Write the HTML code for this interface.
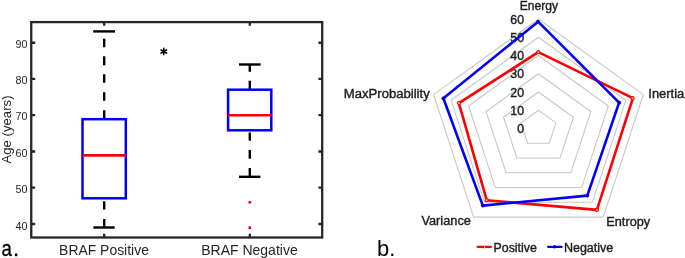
<!DOCTYPE html>
<html><head><meta charset="utf-8">
<style>
html,body{margin:0;padding:0;background:#fff;}
body{width:685px;height:258px;overflow:hidden;}
svg{display:block;will-change:transform;}
text{font-family:"Liberation Sans", sans-serif;}
</style></head>
<body>
<svg width="685" height="258" viewBox="0 0 685 258">
<!-- ===== Left: box plot ===== -->
<g stroke="#262626" stroke-width="2.3" fill="none">
  <rect x="31.25" y="22.1" width="290.95" height="215.4"/>
  <!-- y ticks left -->
  <path d="M31.4 42.75h3.8M31.4 78.9h3.8M31.4 115.1h3.8M31.4 151.5h3.8M31.4 187.7h3.8M31.4 224h3.8"/>
  <!-- y ticks right -->
  <path d="M322.2 42.75h-3.8M322.2 78.9h-3.8M322.2 115.1h-3.8M322.2 151.5h-3.8M322.2 187.7h-3.8M322.2 224h-3.8"/>
  <!-- x ticks -->
  <path d="M104.2 22v3.8M249.8 22v3.8M104.2 237.5v-3.8M249.8 237.5v-3.8"/>
</g>
<g fill="#262626" font-size="11.5" text-anchor="end">
  <text x="27.5" y="48.1" textLength="12" lengthAdjust="spacingAndGlyphs">90</text>
  <text x="27.5" y="84.4" textLength="12" lengthAdjust="spacingAndGlyphs">80</text>
  <text x="27.5" y="120.4" textLength="12" lengthAdjust="spacingAndGlyphs">70</text>
  <text x="27.5" y="156.9" textLength="12" lengthAdjust="spacingAndGlyphs">60</text>
  <text x="27.5" y="193.2" textLength="12" lengthAdjust="spacingAndGlyphs">50</text>
  <text x="27.5" y="229.6" textLength="12" lengthAdjust="spacingAndGlyphs">40</text>
</g>
<text transform="translate(10.6,129.5) rotate(-90)" text-anchor="middle" font-size="13.2" fill="#262626">Age (years)</text>
<g fill="#262626" font-size="14.1">
  <text x="59.1" y="254.9" textLength="89.8" lengthAdjust="spacingAndGlyphs">BRAF Positive</text>
  <text x="201.2" y="254.9" textLength="96.5" lengthAdjust="spacingAndGlyphs">BRAF Negative</text>
</g>
<!-- whiskers -->
<g stroke="#000" stroke-width="2.4" fill="none">
  <path d="M104.2 119.2V110.2M104.2 100.7V92.3M104.2 82.7V74.3M104.2 65.2V56.3M104.2 47.2V38.8"/>
  <path d="M93.2 31.4H115"/>
  <path d="M104.2 227.5V219M104.2 209.4V201.2"/>
  <path d="M93.4 227.5H114.7"/>
  <path d="M249.8 89.7V80.8M249.8 71.8V64.5"/>
  <path d="M239 64.5H260.6"/>
  <path d="M249.8 176.8V168M249.8 158.7V150.1M249.8 140.8V132.4"/>
  <path d="M239 176.8H260.4"/>
</g>
<!-- boxes -->
<g stroke="#0000ff" stroke-width="2.5" fill="none">
  <rect x="82.5" y="119.2" width="43.3" height="79.1"/>
  <rect x="228.1" y="89.7" width="43.2" height="40.6"/>
</g>
<g stroke="#ff0000">
  <path d="M82.6 155.4H125.7" stroke-width="2.6"/>
  <path d="M228.2 115.3H271.3" stroke-width="2.4"/>
</g>
<g fill="#ff0000">
  <rect x="248.5" y="201" width="2.6" height="2.6"/>
  <rect x="248.5" y="226.4" width="2.6" height="2.6"/>
</g>
<!-- asterisk -->
<g stroke="#000" stroke-width="1.6" stroke-linecap="round">
  <path d="M163.8 48.4V54.6M161.1 49.95L166.5 53.05M161.1 53.05L166.5 49.95"/>
</g>
<!-- panel labels -->
<text transform="translate(1.6,256) scale(0.85,1)" font-size="22" fill="#000" stroke="#000" stroke-width="0.3">a</text><text x="12.9" y="256" font-size="22" fill="#000" stroke="#000" stroke-width="0.3">.</text>
<text x="377" y="256" font-size="22" fill="#000">b.</text>

<!-- ===== Right: radar ===== -->
<g stroke="#c8c8c8" stroke-width="1.1" fill="none">
  <polygon points="538.45,110.25 555.92,122.86 549.25,143.26 527.65,143.26 520.98,122.86"/>
  <polygon points="538.45,92.00 573.39,117.22 560.04,158.03 516.86,158.03 503.51,117.22"/>
  <polygon points="538.45,73.75 590.85,111.58 570.84,172.79 506.06,172.79 486.05,111.58"/>
  <polygon points="538.45,55.50 608.32,105.94 581.63,187.56 495.27,187.56 468.58,105.94"/>
  <polygon points="538.45,37.25 625.79,100.30 592.43,202.32 484.47,202.32 451.11,100.30"/>
  <polygon points="538.45,19.00 643.26,94.66 603.22,217.09 473.68,217.09 433.64,94.66"/>
</g>
<g fill="#1e1e1e" stroke="#1e1e1e" stroke-width="0.4" font-size="12.3" text-anchor="end">
  <text x="524" y="23.6">60</text>
  <text x="524" y="41.8">50</text>
  <text x="524" y="60">40</text>
  <text x="524" y="78.3">30</text>
  <text x="524" y="96.5">20</text>
  <text x="524" y="114.8">10</text>
  <text x="524" y="133">0</text>
</g>
<polygon points="538.3,52.2 632.9,98.1 596.9,209.9 486.7,200.2 458.9,103.1" fill="none" stroke="#ff0000" stroke-width="2.6" stroke-linejoin="round"/>
<polygon points="538.1,21.7 619.1,102.6 587.3,195.6 482.8,205.6 443.4,98.3" fill="none" stroke="#0000ff" stroke-width="2.6" stroke-linejoin="round"/>
<g fill="#1e1e1e" stroke="#1e1e1e" stroke-width="0.4" font-size="12.5">
  <text x="519.7" y="9.9" textLength="38.4" lengthAdjust="spacingAndGlyphs">Energy</text>
  <text x="648.3" y="98" textLength="36" lengthAdjust="spacingAndGlyphs">Inertia</text>
  <text x="606.3" y="225.6" textLength="43.9" lengthAdjust="spacingAndGlyphs">Entropy</text>
  <text x="421.4" y="225.1" textLength="49.6" lengthAdjust="spacingAndGlyphs">Variance</text>
  <text x="343.8" y="98" textLength="85.9" lengthAdjust="spacingAndGlyphs">MaxProbability</text>
  <text x="493.5" y="251.9" textLength="43.4" lengthAdjust="spacingAndGlyphs">Positive</text>
  <text x="563.9" y="251.9" textLength="49.4" lengthAdjust="spacingAndGlyphs">Negative</text>
</g>
<g fill="#ff0000"><circle cx="538.3" cy="52.2" r="2.1"/><circle cx="632.6" cy="98.2" r="2.1"/><circle cx="596.9" cy="209.9" r="2.1"/><circle cx="486.7" cy="200.2" r="2.1"/><circle cx="458.9" cy="103.1" r="2.1"/></g>
<g fill="#e9c48a"><circle cx="538.3" cy="52.2" r="1"/><circle cx="632.6" cy="98.2" r="1"/><circle cx="596.9" cy="209.9" r="1"/><circle cx="486.7" cy="200.2" r="1"/><circle cx="458.9" cy="103.1" r="1"/></g>
<g fill="#0000c8"><circle cx="538.1" cy="21.7" r="1.9"/><circle cx="619.2" cy="102.6" r="1.9"/><circle cx="587.3" cy="195.6" r="1.9"/><circle cx="482.8" cy="205.6" r="1.9"/><circle cx="443.4" cy="98.3" r="1.9"/></g>
<path d="M477.6 246.8H490.9" stroke="#ff0000" stroke-width="2.3" stroke-linecap="round"/>
<path d="M548.1 246.8H561.6" stroke="#0000ff" stroke-width="2.3" stroke-linecap="round"/>
<rect x="484" y="244.8" width="1.1" height="4" fill="#e9b070"/>
<rect x="553.6" y="245" width="2" height="3.6" rx="0.8" fill="#0000d0"/>
</svg>
</body></html>
